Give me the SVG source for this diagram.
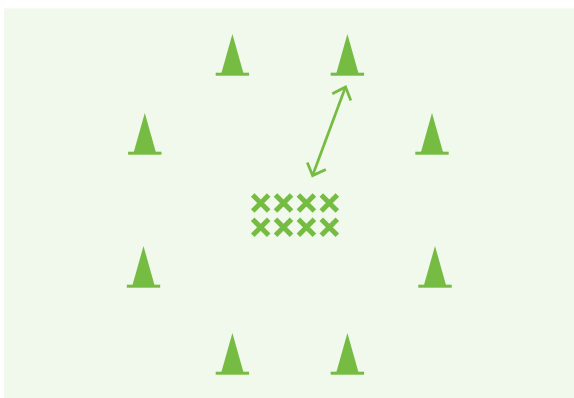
<svg xmlns="http://www.w3.org/2000/svg" width="574" height="398" viewBox="0 0 574 398">
<defs>
<g id="cone"><path d="M0 -1L11 38H-11Z" fill="#76bc43"/><rect x="-16.7" y="37.7" width="33.4" height="3" fill="#76bc43"/></g>
<path id="x" d="M-8 -8L8 8M8 -8L-8 8" fill="none" stroke="#76bc43" stroke-width="5"/>
</defs>
<rect x="0" y="0" width="574" height="398" fill="#ffffff"/>
<rect x="4" y="8.5" width="570" height="389.5" fill="#f1f8ec"/>
<g id="cone1"><use href="#cone" x="232.4" y="35"/></g>
<g id="cone2"><use href="#cone" x="347.4" y="35"/></g>
<g id="cone3"><use href="#cone" x="144.8" y="114"/></g>
<g id="cone4"><use href="#cone" x="432" y="114"/></g>
<g id="cone5"><use href="#cone" x="143.5" y="247"/></g>
<g id="cone6"><use href="#cone" x="435" y="247"/></g>
<g id="cone7"><use href="#cone" x="232.4" y="334"/></g>
<g id="cone8"><use href="#cone" x="347.4" y="334"/></g>
<g id="players">
<use href="#x" x="260.7" y="203"/><use href="#x" x="283.5" y="203"/><use href="#x" x="306.4" y="203"/><use href="#x" x="329.3" y="203"/>
<use href="#x" x="260.7" y="227.3"/><use href="#x" x="283.5" y="227.3"/><use href="#x" x="306.4" y="227.3"/><use href="#x" x="329.3" y="227.3"/>
</g>
<g id="connectors" fill="none" stroke="#76bc43" stroke-width="2.7">
<path d="M345.3 87.5L312.6 175.5"/>
<path d="M332.3 93.8L345.6 87L350.8 100.6"/>
<path d="M307.3 162.6L312.6 175.6L325.8 169.6"/>
</g>
</svg>
